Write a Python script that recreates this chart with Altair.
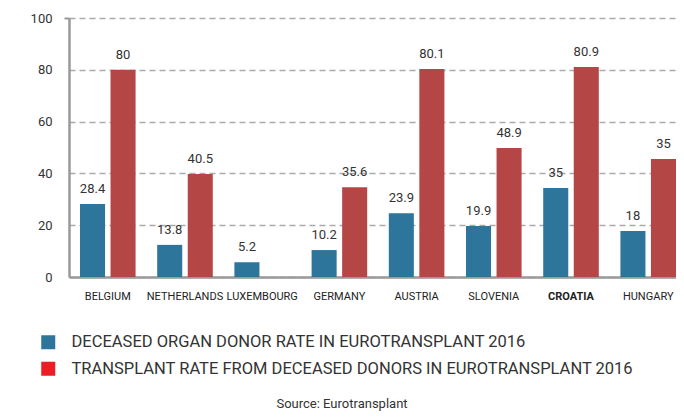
import altair as alt
import pandas as pd

countries = ["BELGIUM", "NETHERLANDS", "LUXEMBOURG", "GERMANY",
             "AUSTRIA", "SLOVENIA", "CROATIA", "HUNGARY"]
# bar heights as drawn in the picture
donor_bar = [28.2, 12.4, 5.7, 10.4, 24.6, 19.7, 34.4, 17.8]
transplant_bar = [80.0, 39.8, None, 34.7, 80.3, 49.8, 81.1, 45.6]
# value labels as printed
donor_label = ["28.4", "13.8", "5.2", "10.2", "23.9", "19.9", "35", "18"]
transplant_label = ["80", "40.5", "", "35.6", "80.1", "48.9", "80.9", "35"]

s1 = "DECEASED ORGAN DONOR RATE IN EUROTRANSPLANT 2016"
s2 = "TRANSPLANT RATE FROM DECEASED DONORS IN EUROTRANSPLANT 2016"
source = "Source: Eurotransplant"

BLUE = "#2e759c"
RED = "#b54646"
LEGRED = "#ee1c25"
FONT = "Roboto"

rows = []
for c, v, l in zip(countries, donor_bar, donor_label):
    rows.append(dict(country=c, series=s1, value=v, label=l))
for c, v, l in zip(countries, transplant_bar, transplant_label):
    if v is not None:
        rows.append(dict(country=c, series=s2, value=v, label=l))
df = pd.DataFrame(rows)

x = alt.X("country:N", sort=countries, title=None,
          scale=alt.Scale(paddingInner=0.28, paddingOuter=0.0712, align=1),
          axis=alt.Axis(labelAngle=0, labelFont=FONT, labelFontSize=11,
                        labelColor="#222", ticks=False, labelPadding=13,
                        domainColor="#999", domainWidth=2.5,
                        labelFontWeight=alt.expr("datum.value == 'CROATIA' ? 'bold' : 'normal'")))
xoff = alt.XOffset("series:N", sort=[s1, s2],
                   scale=alt.Scale(domain=[s1, s2], paddingInner=0.18, paddingOuter=0))
y = alt.Y("value:Q", title=None,
          scale=alt.Scale(domain=[0, 100], nice=False),
          axis=alt.Axis(values=[0, 20, 40, 60, 80, 100], labelFont=FONT,
                        labelFontSize=13, labelColor="#333", labelPadding=12,
                        tickSize=5, tickWidth=2,
                        tickColor=alt.expr("datum.value == 100 ? '#999' : 'transparent'"),
                        domainColor="#999", domainWidth=2.5,
                        grid=True, gridColor="#aaa", gridWidth=1.5,
                        gridDash=[6, 4]))

legend = alt.Legend(
    title=None, orient="none", legendX=-29, legendY=316,
    direction="vertical", symbolType="square", symbolSize=196,
    symbolStrokeWidth=0, labelFont=FONT, labelFontSize=16.5,
    labelColor="#333", labelLimit=800, rowPadding=9.5, labelOffset=15,
    padding=0, symbolOpacity=1,
)

bars = alt.Chart(df).mark_bar().encode(
    x=x, xOffset=xoff, y=y,
    color=alt.Color("series:N", sort=[s1, s2],
                    scale=alt.Scale(domain=[s1, s2], range=[BLUE, RED]),
                    legend=None),
)

labels = alt.Chart(df).mark_text(dy=-15, fontSize=13, color="#333", font=FONT).encode(
    x=x, xOffset=xoff, y=y, text="label:N"
)

leg_df = pd.DataFrame({"series": [s1, s2]})
legend_layer = alt.Chart(leg_df).mark_square(size=196, opacity=1).encode(
    x=alt.value(0), y=alt.value(-300),
    color=alt.Color("series:N", sort=[s1, s2],
                    scale=alt.Scale(domain=[s1, s2], range=[BLUE, LEGRED]),
                    legend=legend),
)

src = alt.Chart(pd.DataFrame({"t": [source]})).mark_text(
    fontSize=13, color="#333", font=FONT, baseline="middle"
).encode(x=alt.value(273), y=alt.value(386), text="t:N")

chart = alt.layer(bars, labels, legend_layer, src).resolve_scale(
    color="independent"
).properties(
    width=607, height=259,
    padding={"left": 61, "top": 10, "right": 0, "bottom": 134},
    autosize="none",
).configure_view(stroke=None)

chart.save("out.html", embed_options={"renderer": "svg", "actions": False})
